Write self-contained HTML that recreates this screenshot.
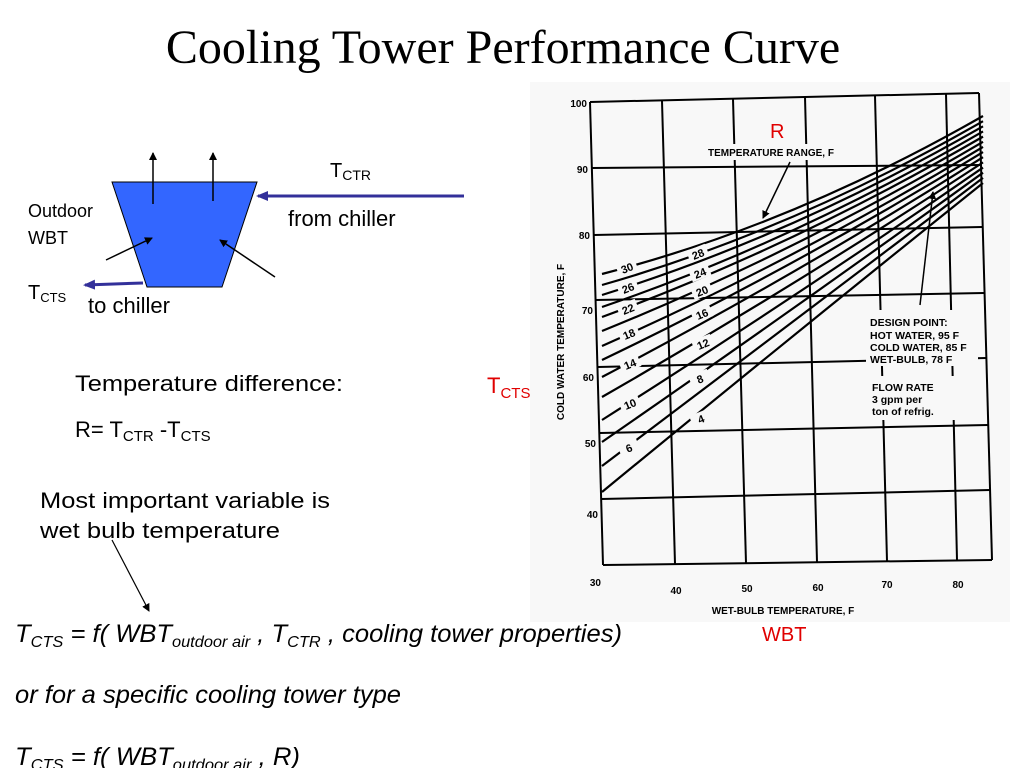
<!DOCTYPE html>
<html><head><meta charset="utf-8"><style>
html,body{margin:0;padding:0;background:#fff;}
svg{display:block}
.s{font-family:"Liberation Sans",Arial,sans-serif;}
.b{font-family:"Liberation Sans",Arial,sans-serif;font-weight:bold;}
</style></head><body>
<svg id="c" width="1024" height="768" viewBox="0 0 1024 768" xmlns="http://www.w3.org/2000/svg">
<defs>
<marker id="ak" markerWidth="8" markerHeight="8" refX="7" refY="4" orient="auto" markerUnits="userSpaceOnUse"><path d="M0,0 L8,4 L0,8 z" fill="#000"/></marker>
<marker id="ab" markerWidth="12" markerHeight="10" refX="10" refY="5" orient="auto" markerUnits="userSpaceOnUse"><path d="M0,0 L12,5 L0,10 z" fill="#33309a"/></marker>
</defs>
<rect x="0" y="0" width="1024" height="768" fill="#fff"/>
<rect x="530" y="82" width="480" height="540" fill="#f8f8f8"/>
<text x="503" y="63" text-anchor="middle" font-family="Liberation Serif, serif" font-size="48">Cooling Tower Performance Curve</text>

<polygon points="112,182 257,182 222,287 147,287" fill="#3366ff" stroke="#000" stroke-width="1"/>
<line x1="153" y1="204" x2="153" y2="153" stroke="#000" stroke-width="1.5" marker-end="url(#ak)"/>
<line x1="213" y1="201" x2="213" y2="153" stroke="#000" stroke-width="1.5" marker-end="url(#ak)"/>
<line x1="106" y1="260" x2="152" y2="238" stroke="#000" stroke-width="1.5" marker-end="url(#ak)"/>
<line x1="275" y1="277" x2="220" y2="240" stroke="#000" stroke-width="1.5" marker-end="url(#ak)"/>
<line x1="464" y1="196" x2="258" y2="196" stroke="#33309a" stroke-width="3" marker-end="url(#ab)"/>
<line x1="143" y1="283" x2="85" y2="285" stroke="#33309a" stroke-width="3" marker-end="url(#ab)"/>
<text class="s" x="330" y="177" font-size="20">T<tspan font-size="14" dy="3">CTR</tspan></text>
<text class="s" x="288" y="226" font-size="22">from chiller</text>
<text class="s" x="28" y="217" font-size="18">Outdoor</text>
<text class="s" x="28" y="244" font-size="18">WBT</text>
<text class="s" x="28" y="299" font-size="20">T<tspan font-size="13" dy="3">CTS</tspan></text>
<text class="s" x="88" y="313" font-size="22">to chiller</text>

<text class="s" x="75" y="391" font-size="22" textLength="268" lengthAdjust="spacingAndGlyphs">Temperature difference:</text>
<text class="s" x="75" y="437" font-size="22">R= T<tspan font-size="15" dy="4">CTR</tspan><tspan dy="-4"> -T</tspan><tspan font-size="15" dy="4">CTS</tspan></text>
<text class="s" x="487" y="393" font-size="22" fill="#e00000">T<tspan font-size="15" dy="5">CTS</tspan></text>

<text class="s" x="40" y="508" font-size="22" textLength="290" lengthAdjust="spacingAndGlyphs">Most important variable is</text>
<text class="s" x="40" y="538" font-size="22" textLength="240" lengthAdjust="spacingAndGlyphs">wet bulb temperature</text>
<line x1="112" y1="540" x2="149" y2="611" stroke="#000" stroke-width="1.2" marker-end="url(#ak)"/>

<g class="s" font-style="italic" font-size="25">
<text x="15" y="642" textLength="607" lengthAdjust="spacingAndGlyphs">T<tspan font-size="16" dy="5">CTS</tspan><tspan dy="-5"> = f( WBT</tspan><tspan font-size="16" dy="5">outdoor air</tspan><tspan dy="-5"> , T</tspan><tspan font-size="16" dy="5">CTR</tspan><tspan dy="-5"> , cooling tower properties)</tspan></text>
<text x="15" y="703" textLength="386" lengthAdjust="spacingAndGlyphs">or for a specific cooling tower type</text>
<text x="15" y="765" textLength="285" lengthAdjust="spacingAndGlyphs">T<tspan font-size="16" dy="5">CTS</tspan><tspan dy="-5"> = f( WBT</tspan><tspan font-size="16" dy="5">outdoor air</tspan><tspan dy="-5"> , R)</tspan></text>
</g>
<text class="s" x="762" y="641" font-size="20" fill="#e00000">WBT</text>

<g id="grid" stroke="#000" stroke-width="2" fill="none">
<line x1="590" y1="102" x2="979" y2="93"/>
<line x1="592" y1="168" x2="980" y2="165"/>
<line x1="594" y1="235" x2="982" y2="227"/>
<line x1="596" y1="300" x2="984" y2="293"/>
<line x1="598" y1="367" x2="986" y2="358"/>
<line x1="600" y1="433" x2="988" y2="425"/>
<line x1="601" y1="499" x2="990" y2="490"/>
<line x1="603" y1="565" x2="992" y2="560"/>
<line x1="590" y1="102" x2="603" y2="565"/>
<line x1="662" y1="101" x2="675" y2="564"/>
<line x1="733" y1="99" x2="746" y2="563"/>
<line x1="805" y1="97" x2="817" y2="562"/>
<line x1="875" y1="96" x2="887" y2="561"/>
<line x1="946" y1="94" x2="957" y2="560"/>
<line x1="979" y1="93" x2="992" y2="560"/>
</g>
<g id="curves" stroke="#000" stroke-width="2.2" fill="none"></g>
<rect x="866" y="310" width="112" height="56" fill="#f8f8f8"/>
<rect x="866" y="376" width="112" height="44" fill="#f8f8f8"/>
<rect x="700" y="144" width="160" height="16" fill="#f8f8f8"/>
<g class="b" font-size="10.5">
<text x="870" y="326">DESIGN POINT:</text>
<text x="870" y="339">HOT WATER, 95 F</text>
<text x="870" y="351">COLD WATER, 85 F</text>
<text x="870" y="363">WET-BULB, 78 F</text>
<text x="872" y="391">FLOW RATE</text>
<text x="872" y="403">3 gpm per</text>
<text x="872" y="415">ton of refrig.</text>
<text x="708" y="156" font-size="10">TEMPERATURE RANGE, F</text>
</g>
<line x1="790" y1="162" x2="763" y2="218" stroke="#000" stroke-width="1.5" marker-end="url(#ak)"/>
<line x1="920" y1="305" x2="933" y2="192" stroke="#000" stroke-width="1.5" marker-end="url(#ak)"/>
<text class="s" x="770" y="138" font-size="20" fill="#e00000">R</text>

<g class="b" font-size="10" text-anchor="end">
<text x="587" y="107">100</text>
<text x="588" y="173">90</text>
<text x="590" y="239">80</text>
<text x="593" y="314">70</text>
<text x="594" y="381">60</text>
<text x="596" y="447">50</text>
<text x="598" y="518">40</text>
<text x="601" y="586">30</text>
</g>
<g class="b" font-size="10" text-anchor="middle">
<text x="676" y="594">40</text>
<text x="747" y="592">50</text>
<text x="818" y="591">60</text>
<text x="887" y="588">70</text>
<text x="958" y="588">80</text>
<text x="783" y="614" font-size="10">WET-BULB TEMPERATURE, F</text>
<text transform="translate(564,342) rotate(-90)" font-size="10">COLD WATER TEMPERATURE, F</text>
</g>
<g id="labels" class="b" font-size="11" text-anchor="middle"></g>
</svg>
<script>
var ns="http://www.w3.org/2000/svg";
var yl=[274,285,295,307,317,331,346,360,377,397,420,442,466,492];
var g=document.getElementById('curves');
for(var i=0;i<14;i++){
 var yr=116+i*67/13, x0=602, x1=983;
 var bow=30-32*i/13;
 var cx=(x0+x1)/2, cy=(yl[i]+yr)/2+bow;
 var p=document.createElementNS(ns,'path');
 p.setAttribute('d','M'+x0+','+yl[i]+' Q'+cx+','+cy+' '+x1+','+yr);
 g.appendChild(p);
}
var L=[["30",627,268],["26",628,288],["22",628,309],["18",629,334],["14",630,364],["10",630,404],["6",629,448],
["28",698,254],["24",700,273],["20",702,291],["16",702,314],["12",703,344],["8",700,379],["4",701,419]];
var lg=document.getElementById('labels');
L.forEach(function(l){
 var r=document.createElementNS(ns,'rect');
 r.setAttribute('x',l[1]-10);r.setAttribute('y',l[2]-7);r.setAttribute('width',20);r.setAttribute('height',13);
 r.setAttribute('fill','#f8f8f8');r.setAttribute('transform','rotate(-22 '+l[1]+' '+l[2]+')');
 lg.appendChild(r);
 var t=document.createElementNS(ns,'text');
 t.setAttribute('x',l[1]);t.setAttribute('y',l[2]+4);t.setAttribute('transform','rotate(-22 '+l[1]+' '+l[2]+')');
 t.textContent=l[0];lg.appendChild(t);
});
</script>
</body></html>
